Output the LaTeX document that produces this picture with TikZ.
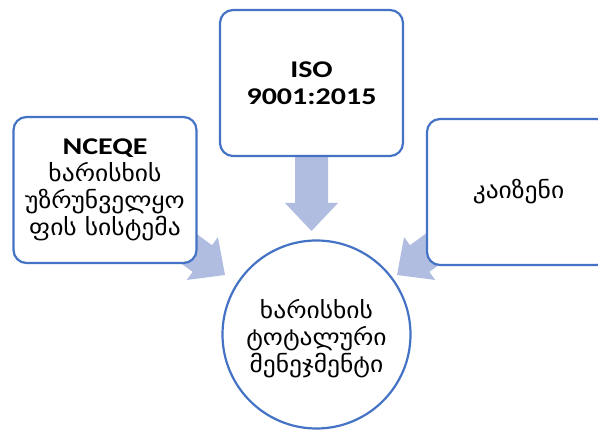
\documentclass[tikz,border=0pt]{standalone}
\usepackage{graphicx}
\usepackage{fontspec}
\setmainfont{Carlito}
\newfontfamily\geo[Script=Georgian]{DejaVu Sans}
\usetikzlibrary{shapes.geometric}
\definecolor{boxblue}{HTML}{4472C4}
\definecolor{arrowfill}{HTML}{B0BDE0}
\newcommand{\lat}[1]{\scalebox{1.25}[1]{\fontsize{24}{27}\selectfont\textbf{#1}}}
\newcommand{\ka}[1]{\scalebox{1.11}[1]{\fontsize{23}{27}\selectfont\geo #1}}
\tikzset{
  box/.style={draw=boxblue, line width=2.2pt, fill=white, rounded corners=13pt,
    minimum width=183pt, minimum height=146pt, align=center, inner sep=0pt,
    font=\fontsize{22}{27}\selectfont},
  hub/.style={circle, draw=boxblue, line width=2.2pt, fill=white,
    minimum size=188pt, inner sep=0pt},
  txt/.style={align=center, inner sep=0pt, font=\fontsize{22}{27}\selectfont},
  blockarrow/.style={fill=arrowfill, draw=none}
}
\newcommand{\blockarr}[3]{% tip, angle, length
  \begin{scope}[shift={#1}, rotate=#2]
    \fill[blockarrow] (0,0) -- (-28,26.5) -- (-28,16.5) -- (-#3,16.5)
      -- (-#3,-16.5) -- (-28,-16.5) -- (-28,-26.5) -- cycle;
  \end{scope}}
\begin{document}
\begin{tikzpicture}[x=1pt, y=-1pt]
\useasboundingbox (0,0) rectangle (598,430);
\clip (0,0) rectangle (598,430);
% arrows (behind boxes)
\blockarr{(311.5,231)}{-90}{90}
\blockarr{(225,275)}{-36}{80}
\blockarr{(397,275)}{-144}{80}
% boxes
\node[box] (nceqe) at (105,190) {\lat{NCEQE}\\\ka{ხარისხის}\\\ka{უზრუნველყო}\\\ka{ფის სისტემა}};
\node[box] (iso) at (311.5,83) {\lat{ISO}\\\lat{9001:2015}};
\node[box] (kaizen) at (518.5,192) {\ka{კაიზენი}};
\node[hub] (tqm) at (316.5,334.5) {};
\node[txt] (tqmtext) at ([yshift=-4pt]tqm.center) {\ka{ხარისხის}\\\ka{ტოტალური}\\\ka{მენეჯმენტი}};
\end{tikzpicture}
\end{document}
